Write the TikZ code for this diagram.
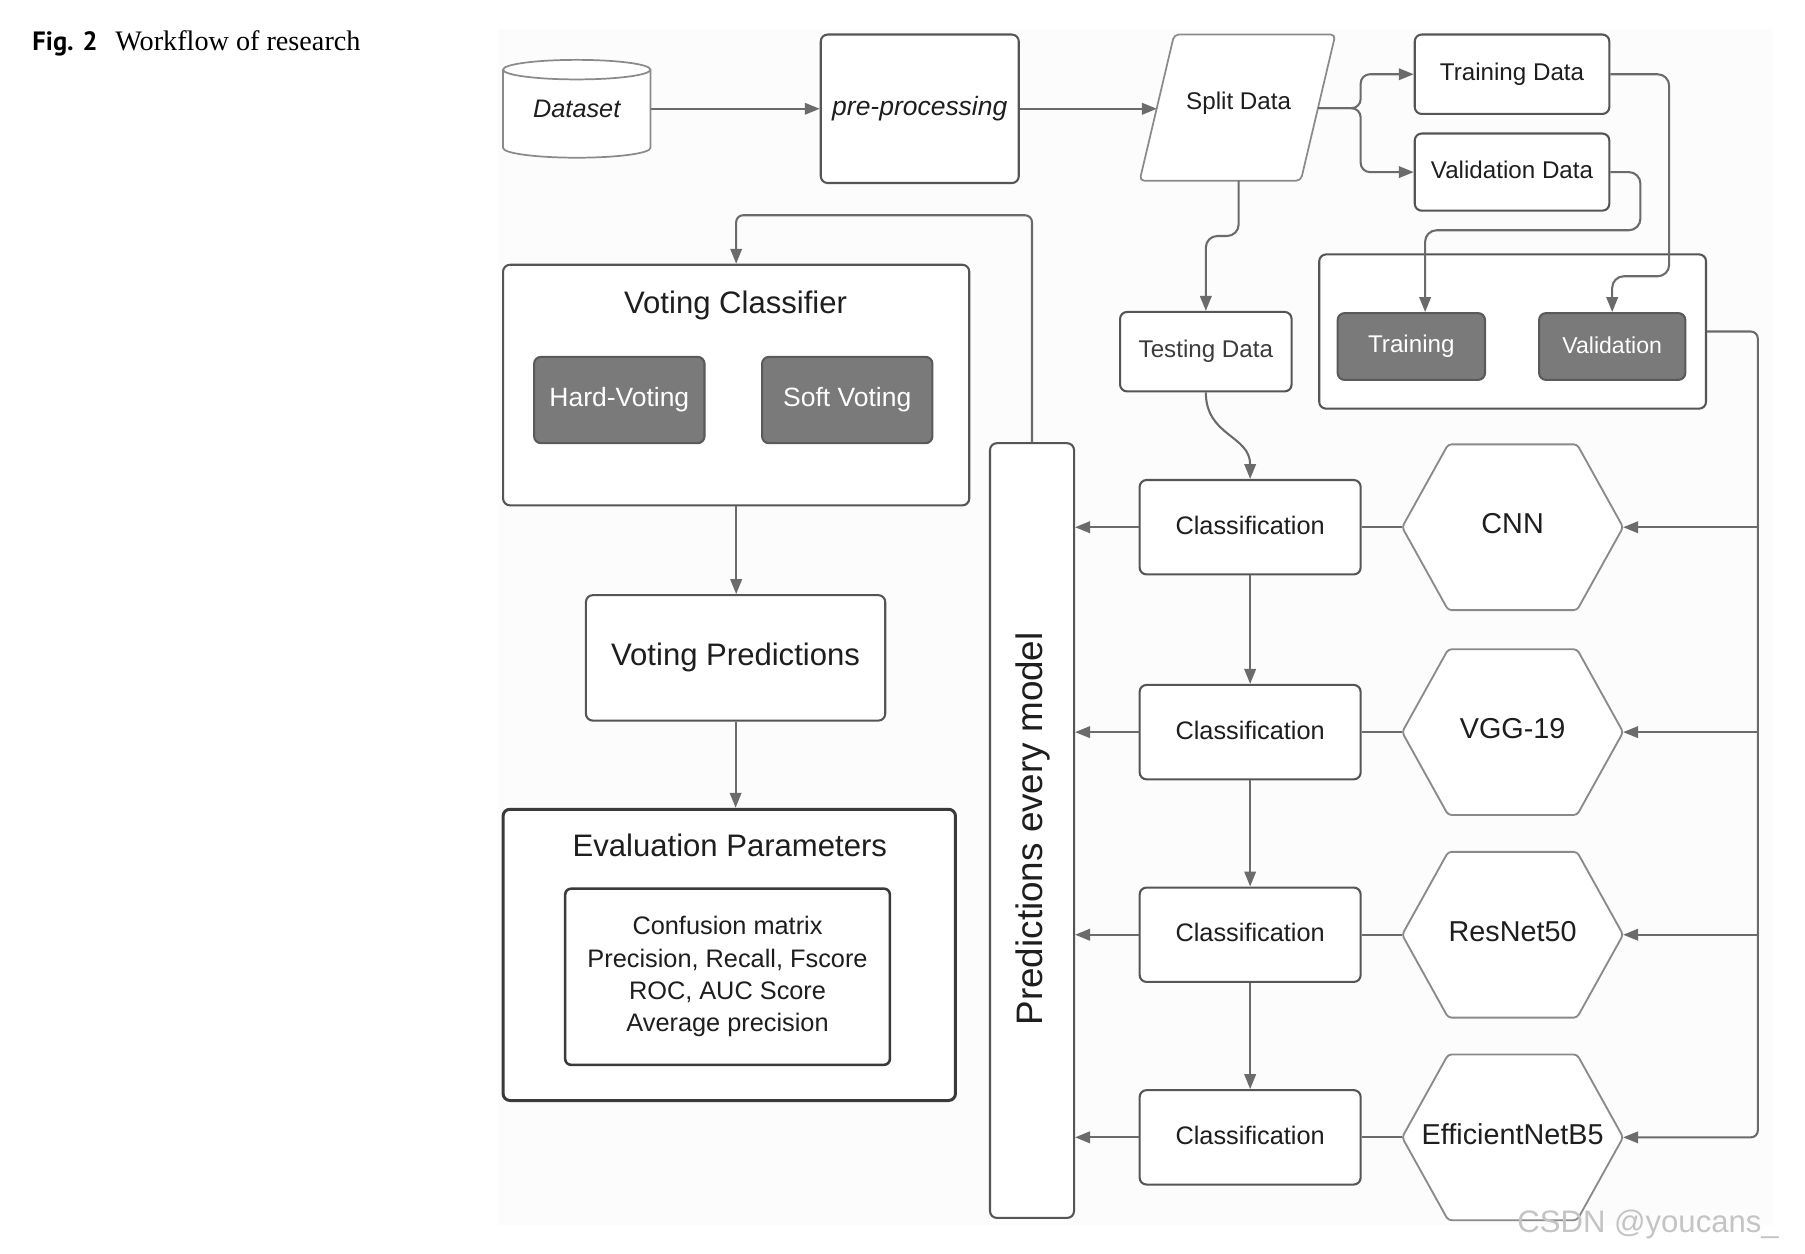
\documentclass[tikz,border=0pt]{standalone}
\usepackage{fontspec}
\setmainfont{Liberation Sans}
\newfontfamily\capserif{Liberation Serif}
\newfontfamily\capsans{PT Sans}
\usetikzlibrary{arrows.meta,calc,shapes.geometric}
\definecolor{boxc}{HTML}{555555}
\definecolor{hexc}{HTML}{8A8A8A}
\definecolor{linec}{HTML}{6B6B6B}
\definecolor{darkfill}{HTML}{7A7A7A}
\definecolor{darkdraw}{HTML}{5A5A5A}
\definecolor{txtc}{HTML}{1E1E1E}
\definecolor{testc}{HTML}{3C3C3C}
\definecolor{evc}{HTML}{3A3A3A}
\definecolor{bgc}{HTML}{FCFCFC}
\definecolor{wmc}{HTML}{C4C4C4}
\newcommand{\fsz}[1]{\fontsize{#1}{#1}\selectfont}
\begin{document}
\begin{tikzpicture}[x=1pt,y=-1pt,
  box/.style={draw=boxc, line width=1.8pt, rounded corners=6pt, fill=white, inner sep=0pt, text=txtc, align=center},
  darkbox/.style={box, fill=darkfill, draw=darkdraw, text=white},
  plainline/.style={draw=linec, line width=1.8pt},
  conn/.style={plainline, -{Triangle[length=13pt,width=10pt]}},
  lbl/.style={inner sep=0pt, text=txtc},
  hexshape/.style={draw=hexc, line width=1.6pt, rounded corners=3pt, fill=white},
  cyl/.style={draw=hexc, line width=1.5pt},
]
\useasboundingbox (0,0) rectangle (1568,1089);
\fill[bgc] (433,25) rectangle (1540,1064);

% caption
\node[anchor=base west, inner sep=0pt] (figlab) at (28,44) {\capsans\bfseries\fsz{23}Fig. 2};
\node[anchor=base west, inner sep=0pt] (figtitle) at (100,44) {\capserif\fsz{24.5}Workflow of research};

% dataset cylinder
\fill[white] (437,60.5) -- (437,128.5) .. controls (437,133.2) and (465.7,137) .. (501,137) .. controls (536.3,137) and (565,133.2) .. (565,128.5) -- (565,60.5) -- cycle;
\draw[cyl] (437,60.5) -- (437,128.5) .. controls (437,133.2) and (465.7,137) .. (501,137) .. controls (536.3,137) and (565,133.2) .. (565,128.5) -- (565,60.5);
\draw[cyl, fill=white] (501,60.5) ellipse [x radius=64, y radius=8.5];
\node[lbl, minimum width=128pt, minimum height=85pt] (dataset) at (501,94.5) {\raisebox{-4pt}{\fsz{22}\itshape Dataset}};

% pre-processing
\node[box, minimum width=172pt, minimum height=129pt] (pre) at (799,94.5) {\raisebox{3pt}{\fsz{23}\itshape pre-processing}};

% split data (parallelogram)
\draw[draw=hexc, line width=1.5pt, rounded corners=4pt, fill=white] (1020,30) -- (1160,30) -- (1130,157) -- (990,157) -- cycle;
\node[lbl] (split) at (1076,90) {\fsz{21}Split Data};
\coordinate (splitW) at (1005,94.5);
\coordinate (splitE) at (1145,94);
\coordinate (splitS) at (1076,157);

\draw[conn] (dataset.east) -- (pre.west);
\draw[conn] (pre.east) -- (splitW);

% training / validation data
\node[box, minimum width=169pt, minimum height=69pt] (trd) at (1313.5,64.5) {\raisebox{2pt}{\fsz{21}Training Data}};
\node[box, minimum width=169pt, minimum height=67pt] (vad) at (1313.5,149.5) {\raisebox{4pt}{\fsz{21}Validation Data}};

\coordinate (fork) at (1182,94);
\draw[conn, rounded corners=8pt] (splitE) -- (fork) -- (fork |- trd.west) -- (trd.west);
\draw[conn, rounded corners=8pt] (splitE) -- (fork) -- (fork |- vad.west) -- (vad.west);

% training container
\node[box, minimum width=336pt, minimum height=134pt] (cont) at (1314,288) {};
\node[darkbox, minimum width=128pt, minimum height=58pt] (trn) at (1226,301) {\raisebox{3pt}{\fsz{21}Training}};
\node[darkbox, minimum width=127pt, minimum height=58pt] (val) at (1400.5,301) {\raisebox{3pt}{\fsz{20}Validation}};

\coordinate (trnin) at ($(trn.north)+(12,0)$);
\draw[conn, rounded corners=10pt] (trd.east) -- (1450,64.5) -- (1450,240) -- (val.north |- 0,240) -- (val.north);
\draw[conn, rounded corners=10pt] (vad.east) -- (1425,149.5) -- (1425,200) -- (trnin |- 0,200) -- (trnin);

% testing data
\node[box, minimum width=149pt, minimum height=69pt] (test) at (1047.5,305.5) {\raisebox{4pt}{\fsz{21}\color{testc}Testing Data}};
\draw[conn, rounded corners=10pt] (splitS) -- (splitS |- 0,205) -- (test.north |- 0,205) -- (test.north);

% classification column
\foreach \i/\y in {1/458, 2/636, 3/812, 4/988} {
  \node[box, minimum width=192pt, minimum height=82pt] (cl\i) at (1086,\y) {\raisebox{4pt}{\fsz{22}Classification}};
}
\draw[conn] (test.south) .. controls ($(test.south)+(0,38)$) and ($(cl1.north)+(0,-38)$) .. (cl1.north);
\draw[conn] (cl1.south) -- (cl2.north);
\draw[conn] (cl2.south) -- (cl3.north);
\draw[conn] (cl3.south) -- (cl4.north);

% predictions every model
\node[box, minimum width=73pt, minimum height=673pt] (pred) at (896.5,721.5) {};
\node[lbl, rotate=90] (predtxt) at (897,720) {\fsz{32}Predictions every model};
\foreach \i in {1,...,4} {
  \draw[conn] (cl\i.west) -- (cl\i.west -| pred.east);
}

% hexagons
\foreach \i/\y/\t in {1/458/CNN, 2/636/VGG-19, 3/812/ResNet50, 4/988/EfficientNetB5} {
  \draw[hexshape] (1218,\y) -- (1258,\y-72) -- (1370,\y-72) -- (1410,\y) -- (1370,\y+72) -- (1258,\y+72) -- cycle;
  \node[lbl] (hx\i) at (1314,\y-3) {\fsz{25}\t};
  \coordinate (hw\i) at (1218,\y);
  \coordinate (he\i) at (1410,\y);
}
\foreach \i in {1,...,4} {
  \draw[plainline] (cl\i.east) -- (hw\i);
}
\coordinate (bus) at (1527,288);
\draw[conn, rounded corners=6pt] (cont.east) -- (bus) -- (bus |- he4) -- (he4);
\foreach \i in {1,2,3} {
  \draw[conn] (bus |- he\i) -- (he\i);
}

% voting classifier
\node[box, minimum width=405pt, minimum height=209pt] (vc) at (639.5,334.5) {};
\node[lbl] (vctitle) at (639,265) {\fsz{27}Voting Classifier};
\node[darkbox, minimum width=148pt, minimum height=75pt] (hard) at (538,347.5) {\fsz{23}Hard-Voting};
\node[darkbox, minimum width=148pt, minimum height=75pt] (soft) at (736,347.5) {\fsz{23}Soft Voting};
\draw[conn, rounded corners=6pt] (pred.north) -- (pred.north |- 0,187) -- (vc.north |- 0,187) -- (vc.north);

% voting predictions
\node[box, minimum width=260pt, minimum height=109pt] (vp) at (639,571.5) {\raisebox{4pt}{\fsz{27}Voting Predictions}};
\draw[conn] (vc.south) -- (vc.south |- vp.north);

% evaluation parameters
\node[box, draw=evc, line width=2.6pt, minimum width=393pt, minimum height=253pt] (ev) at (633.5,829.5) {};
\node[lbl] (evtitle) at (634,734) {\fsz{27}Evaluation Parameters};
\node[box, draw=evc, line width=2.2pt, rounded corners=5pt, minimum width=282pt, minimum height=153pt,
      font=\fontsize{22}{28}\selectfont] (evin) at (632,848.5) {Confusion matrix\\Precision, Recall, Fscore\\ROC, AUC Score\\Average precision};
\draw[conn] (vp.south) -- (vp.south |- ev.north);

% watermark
\node[anchor=base west, inner sep=0pt, text=wmc] (wm) at (1318,1071) {\fsz{27}CSDN @youcans\_};
\end{tikzpicture}
\end{document}
